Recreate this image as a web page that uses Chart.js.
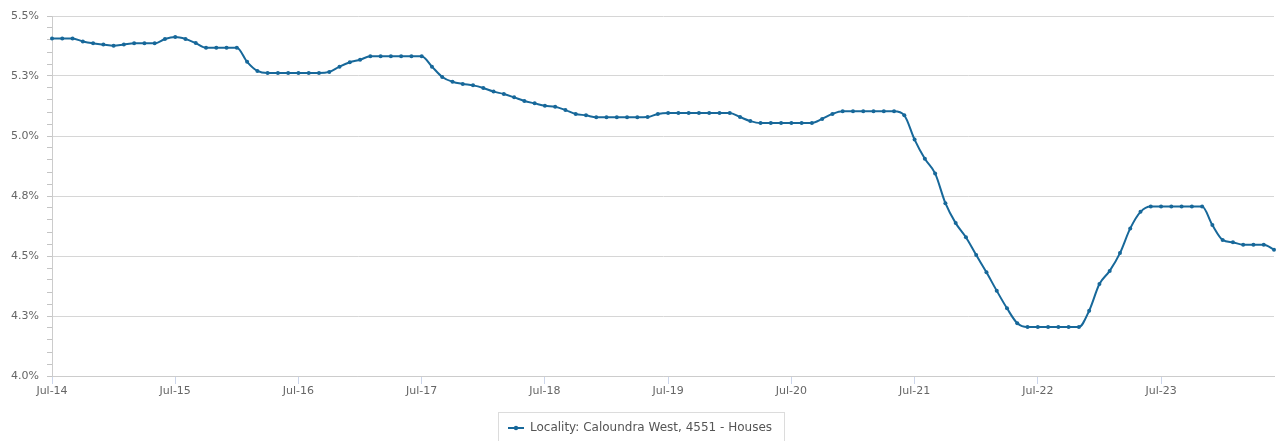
<!DOCTYPE html>
<html>
<head>
<meta charset="utf-8">
<script src="https://cdn.jsdelivr.net/npm/chart.js@4.4.0/dist/chart.umd.min.js"></script>
<style>
  html, body { margin: 0; padding: 0; overflow: hidden; background: #ffffff; }
  #wrap { width: 1280px; height: 450px; }
</style>
</head>
<body>
<div id="wrap"><canvas id="c" width="1280" height="450"></canvas></div>
<script>
// ---------- data ----------
const seriesName = 'Locality: Caloundra West, 4551 - Houses';
const monthNames = ['Jan','Feb','Mar','Apr','May','Jun','Jul','Aug','Sep','Oct','Nov','Dec'];
const startYear = 2014;
const startMonthIndex = 6; // Jul
const xTickLabels = ['Jul-14','Jul-15','Jul-16','Jul-17','Jul-18','Jul-19','Jul-20','Jul-21','Jul-22','Jul-23'];
const yieldValues = [
  5.406, 5.406, 5.406, 5.394, 5.386, 5.381, 5.376, 5.381, 5.386, 5.386, 5.386, 5.404,
  5.412, 5.404, 5.387, 5.368, 5.368, 5.368, 5.368, 5.309, 5.271, 5.262, 5.262, 5.262,
  5.262, 5.262, 5.262, 5.267, 5.289, 5.307, 5.318, 5.332, 5.332, 5.332, 5.332, 5.332,
  5.332, 5.289, 5.246, 5.226, 5.217, 5.211, 5.200, 5.185, 5.175, 5.161, 5.146, 5.136,
  5.126, 5.122, 5.108, 5.092, 5.086, 5.078, 5.078, 5.078, 5.078, 5.078, 5.079, 5.092,
  5.096, 5.096, 5.096, 5.096, 5.096, 5.096, 5.096, 5.079, 5.062, 5.054, 5.054, 5.054,
  5.054, 5.054, 5.054, 5.071, 5.092, 5.103, 5.103, 5.103, 5.103, 5.103, 5.103, 5.086,
  4.985, 4.905, 4.844, 4.720, 4.637, 4.578, 4.504, 4.432, 4.355, 4.282, 4.220, 4.204,
  4.204, 4.204, 4.204, 4.204, 4.204, 4.272, 4.383, 4.438, 4.512, 4.615, 4.684, 4.706,
  4.706, 4.706, 4.706, 4.706, 4.706, 4.629, 4.567, 4.557, 4.547, 4.547, 4.547, 4.526
];
const yMin = 4.0;
const yMax = 5.5;
const yMajorStep = 0.25;
const yMinorStep = 0.05;

// ---------- derived categories ----------
const categories = yieldValues.map((_, i) => {
  const m = startMonthIndex + i;
  const y = startYear + Math.floor(m / 12);
  return monthNames[m % 12] + '-' + String(y % 100).padStart(2, '0');
});

const lineColor = '#17689a';
const isMajor = v => Math.abs(v / yMajorStep - Math.round(v / yMajorStep)) < 1e-6;

// legend marker: line with a dot
const marker = document.createElement('canvas');
marker.width = 16; marker.height = 6;
(function () {
  const g = marker.getContext('2d');
  g.strokeStyle = lineColor; g.lineWidth = 2;
  g.beginPath(); g.moveTo(0, 3); g.lineTo(16, 3); g.stroke();
  g.fillStyle = lineColor;
  g.beginPath(); g.arc(8, 3, 2.2, 0, Math.PI * 2); g.fill();
})();

const legendBorder = {
  id: 'legendBorder',
  afterDraw(chart) {
    const lg = chart.legend;
    if (!lg || !lg.legendHitBoxes || !lg.legendHitBoxes.length) return;
    const hb = lg.legendHitBoxes[0];
    const cy = hb.top + hb.height / 2;
    const ctx = chart.ctx;
    ctx.save();
    ctx.strokeStyle = '#dcdcdc';
    ctx.lineWidth = 1;
    ctx.strokeRect(Math.round(hb.left - 10) + 0.5, Math.round(cy - 16) + 0.5, Math.round(hb.width + 22), 32);
    ctx.restore();
  }
};

Chart.defaults.font.family = '"DejaVu Sans", sans-serif';
Chart.defaults.font.size = 11;

new Chart(document.getElementById('c'), {
  type: 'line',
  data: {
    labels: categories,
    datasets: [{
      label: seriesName,
      data: yieldValues,
      borderColor: lineColor,
      backgroundColor: lineColor,
      borderWidth: 2,
      pointRadius: 2,
      pointHoverRadius: 3,
      pointBackgroundColor: lineColor,
      pointBorderWidth: 0,
      cubicInterpolationMode: 'monotone',
      fill: false
    }]
  },
  options: {
    responsive: false,
    devicePixelRatio: 1,
    animation: false,
    layout: { padding: { top: 16, right: 6, left: 6, bottom: 6 } },
    plugins: {
      tooltip: { enabled: false },
      legend: {
        position: 'bottom',
        labels: {
          color: '#555555',
          font: { size: 12 },
          usePointStyle: true,
          pointStyle: marker,
          pointStyleWidth: 16,
          padding: 10
        }
      }
    },
    scales: {
      x: {
        type: 'category',
        offset: false,
        grid: {
          drawOnChartArea: false,
          drawTicks: true,
          tickLength: 8,
          tickColor: c => (xTickLabels.includes(categories[c.index]) ? '#ccd6eb' : 'rgba(0,0,0,0)'),
          tickWidth: 1
        },
        border: { color: '#cccccc', width: 1 },
        ticks: {
          autoSkip: false,
          maxRotation: 0,
          minRotation: 0,
          padding: 1,
          color: '#666666',
          font: { size: 11 },
          callback: (v, i) => (xTickLabels.includes(categories[i]) ? categories[i] : '')
        },
        afterFit: s => { s.height = 36; }
      },
      y: {
        type: 'linear',
        min: yMin,
        max: yMax,
        grid: {
          color: c => (c.tick && isMajor(c.tick.value) ? '#d6d6d6' : 'rgba(0,0,0,0)'),
          tickColor: '#c4c4c4',
          tickLength: 5,
          drawTicks: true
        },
        border: { color: '#cccccc', width: 1 },
        ticks: {
          stepSize: yMinorStep,
          autoSkip: false,
          padding: 8,
          color: '#666666',
          font: { size: 11 },
          callback: v => (isMajor(v) ? v.toFixed(1) + '%' : '')
        },
        afterFit: s => { s.width = 46; }
      }
    }
  },
  plugins: [legendBorder]
});
</script>
</body>
</html>
